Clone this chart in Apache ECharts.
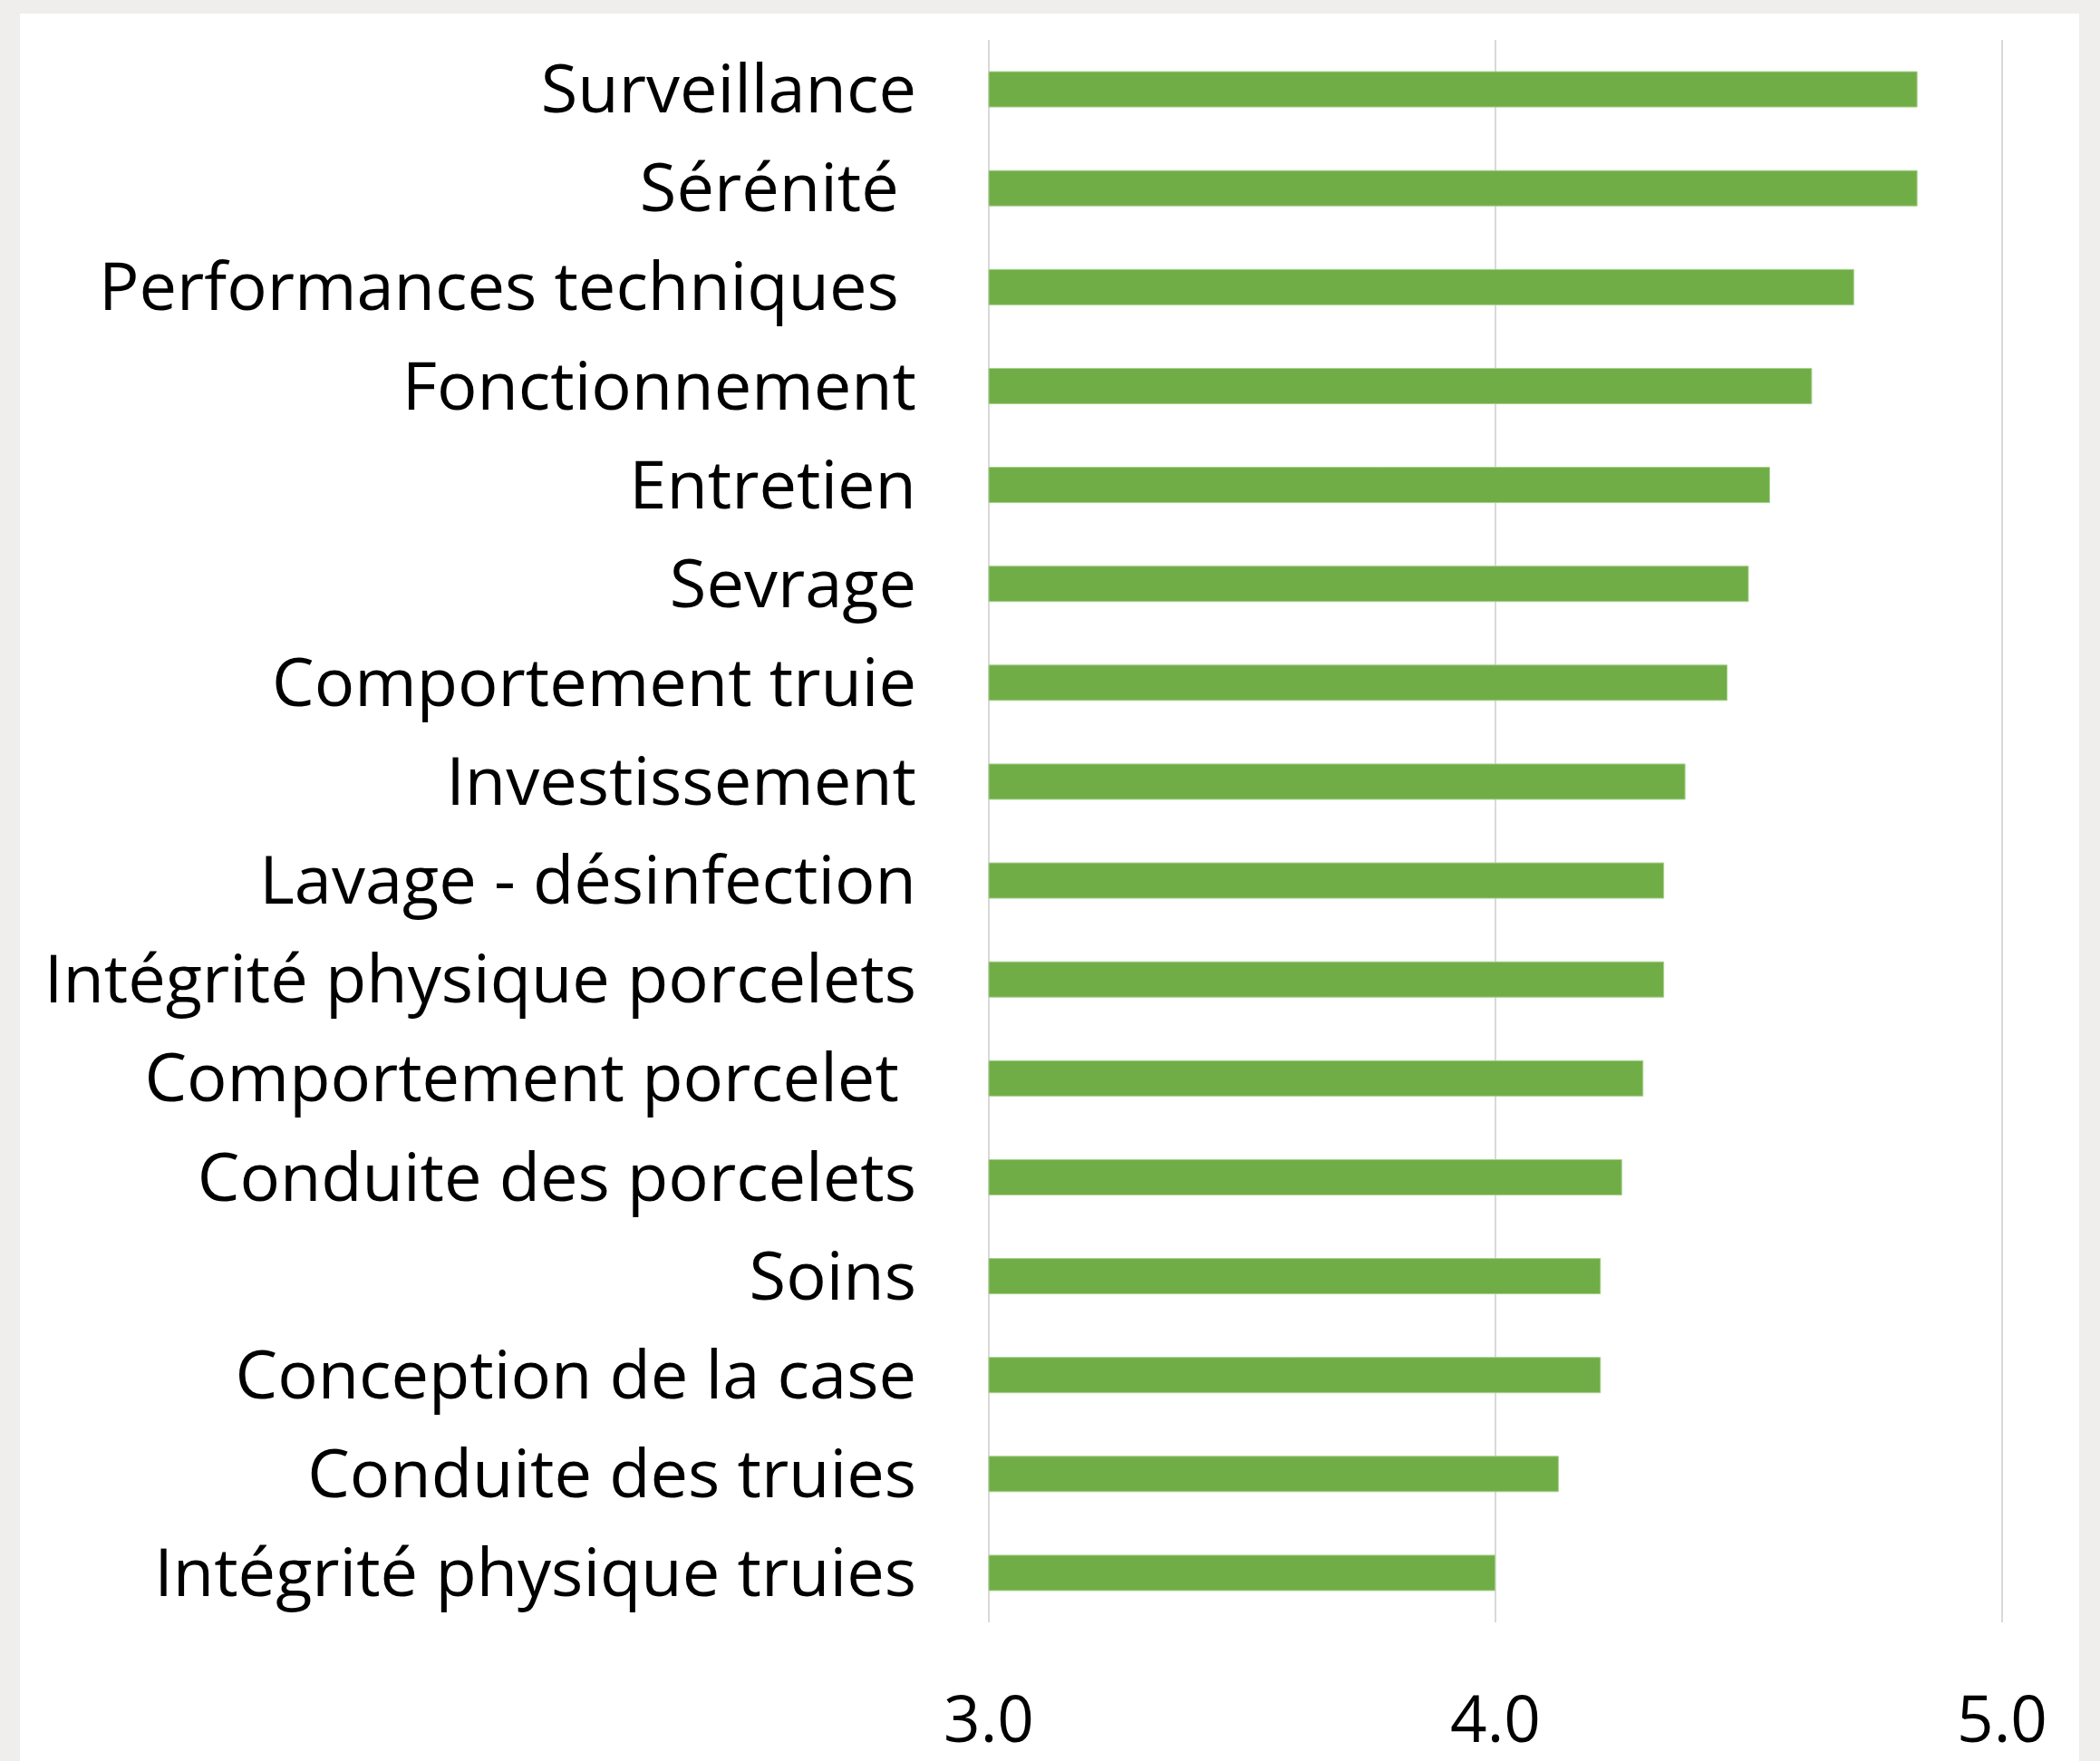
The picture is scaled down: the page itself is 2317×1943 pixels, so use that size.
<!DOCTYPE html>
<html>
<head>
<meta charset="utf-8">
<script src="https://cdn.jsdelivr.net/npm/echarts@6/dist/echarts.min.js"></script>
<style>
html,body{margin:0;padding:0;background:#efeeec;}
#chart{width:2317px;height:1943px;}
</style>
</head>
<body>
<div id="chart"></div>
<script>
const categories = [
  "Surveillance",
  "Sérénité ",
  "Performances techniques ",
  "Fonctionnement",
  "Entretien",
  "Sevrage",
  "Comportement truie",
  "Investissement",
  "Lavage - désinfection",
  "Intégrité physique porcelets",
  "Comportement porcelet ",
  "Conduite des porcelets",
  "Soins",
  "Conception de la case",
  "Conduite des truies",
  "Intégrité physique truies"
];
const values = [4.833, 4.833, 4.708, 4.625, 4.542, 4.5, 4.458, 4.375, 4.333, 4.333, 4.292, 4.25, 4.208, 4.208, 4.125, 4.0];
const xTicks = [3, 4, 5];

const FONT = "Open Sans";
const chart = echarts.init(document.getElementById('chart'), null, {renderer: 'canvas'});
chart.setOption({
  backgroundColor: '#efeeec',
  animation: false,
  graphic: [{
    type: 'rect', z: -10, silent: true,
    shape: {x: 22, y: 15, width: 2272, height: 1940},
    style: {fill: '#ffffff'}
  }],
  grid: {left: 1091, right: 108, top: 44, bottom: 153, containLabel: false},
  xAxis: {
    type: 'value', min: 3, max: 5, interval: 1,
    axisLine: {show: false}, axisTick: {show: false},
    splitLine: {show: true, lineStyle: {color: '#d9d9d9', width: 2}},
    axisLabel: {
      margin: 76, color: '#000', fontFamily: FONT, fontSize: 71,
      formatter: v => xTicks.includes(v) ? v.toFixed(1) : ''
    }
  },
  yAxis: {
    type: 'category', data: categories, inverse: true,
    axisLine: {show: false}, axisTick: {show: false},
    splitLine: {show: false},
    axisLabel: {
      margin: 80, color: '#000', fontFamily: FONT, fontSize: 74,
      formatter: v => '{a|' + v + '}',
      rich: {a: {color: '#000', fontFamily: FONT, fontSize: 74, padding: [9, 0, 0, 0]}}
    }
  },
  series: [{
    type: 'bar', data: values, barWidth: 40,
    itemStyle: {color: '#70ad47', borderColor: '#a8d08d', borderWidth: 1}
  }]
});
</script>
</body>
</html>
